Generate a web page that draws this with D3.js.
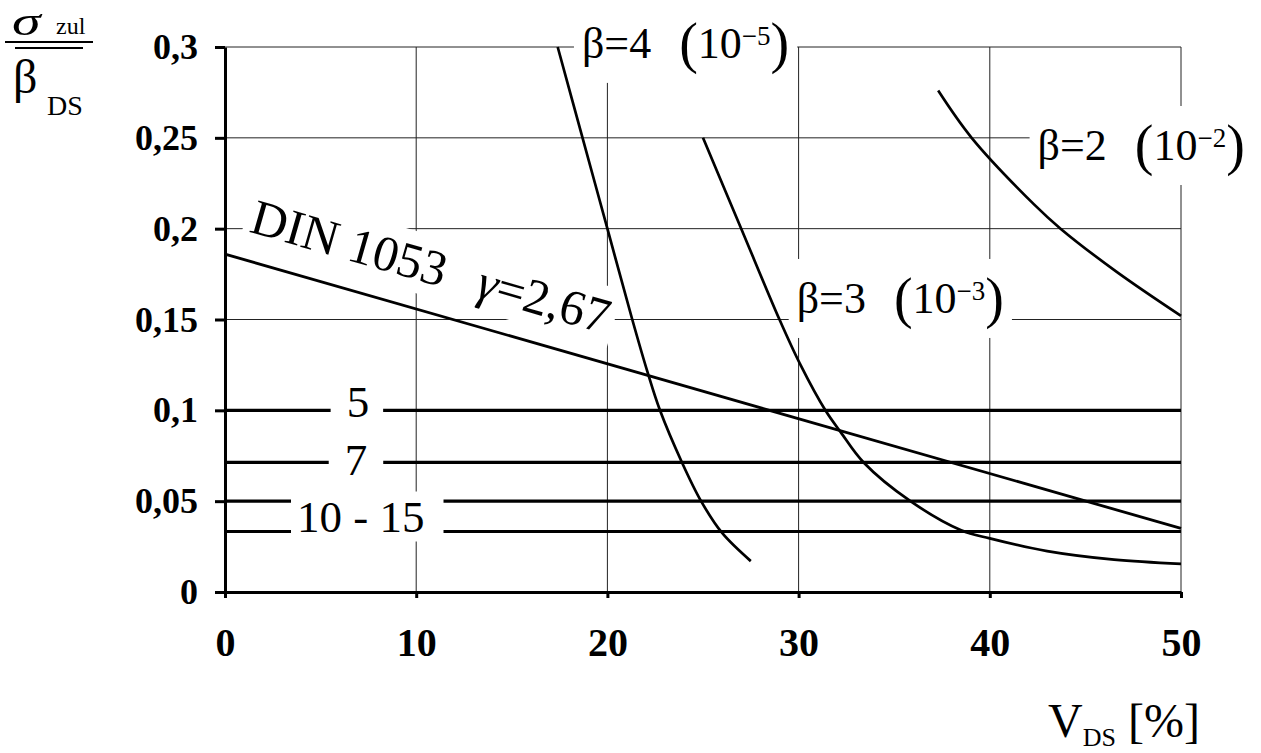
<!DOCTYPE html>
<html lang="de">
<head>
<meta charset="utf-8">
<title>Zulässige Spannung</title>
<script src="https://d3js.org/d3.v7.min.js"></script>
<style>
  body { margin: 0; background: #fff; }
  svg { display: block; font-family: "Liberation Serif", "Times New Roman", serif; }
</style>
</head>
<body>
<div id="chart"></div>
<script>
// Axis ticks
const xTicks = [0, 10, 20, 30, 40, 50];
const yTicks = [0, 0.05, 0.1, 0.15, 0.2, 0.25, 0.3];
const yTickLabels = ["0", "0,05", "0,1", "0,15", "0,2", "0,25", "0,3"];

// DIN 1053, gamma = 2,67 (straight line)
const dinX = [0, 50];
const dinY = [0.186, 0.035];

// beta curves
const beta4X = [17.4, 18.7, 20.0, 21.3, 22.1, 22.75, 23.9, 24.9, 26.0, 27.5];
const beta4Y = [0.3, 0.25, 0.2, 0.15, 0.121, 0.1, 0.0713, 0.05, 0.0325, 0.017];

const beta3X = [25.0, 27.0, 29.0, 30.1, 31.4, 32.2, 33.4, 35.85, 38.5, 40.0, 43.0, 46.5, 50.0];
const beta3Y = [0.25, 0.2, 0.15, 0.125, 0.1, 0.088, 0.0713, 0.05, 0.034, 0.0295, 0.0225, 0.0178, 0.0155];

const beta2X = [37.3, 39.05, 42.3, 43.7, 46.6, 50.0];
const beta2Y = [0.276, 0.25, 0.2135, 0.2, 0.1765, 0.152];

const betaValues = ["4", "3", "2"];
const betaExponents = ["\u22125", "\u22123", "\u22122"];

// global safety factors (horizontal levels)
const levelValues = [0.1, 0.0714, 0.05, 0.0333];
const levelLabels = ["5", "7", "10 - 15"];

// Chart dimensions
const W = 1261, H = 753;
const margin = { top: 47, right: 80, bottom: 161, left: 225 };
const width = W - margin.left - margin.right;
const height = H - margin.top - margin.bottom;

const svg = d3.select("#chart")
    .append("svg")
    .attr("width", W)
    .attr("height", H);

const g = svg.append("g")
    .attr("transform", `translate(${margin.left},${margin.top})`);

// Scales
const x = d3.scaleLinear().domain([0, 50]).range([0, width]);
const y = d3.scaleLinear().domain([0, 0.3]).range([height, 0]);

// Layers
const gridLayer = g.append("g");
const bgLayer = g.append("g");
const lineLayer = g.append("g");
const axisLayer = g.append("g");
const bgLayer2 = g.append("g");
const textLayer = g.append("g");

// Grid
gridLayer.selectAll("line.v")
    .data(xTicks.slice(1))
    .join("line")
    .attr("class", "v")
    .attr("x1", d => x(d)).attr("x2", d => x(d))
    .attr("y1", 0).attr("y2", height)
    .attr("stroke", "#222")
    .attr("stroke-width", 1);

gridLayer.selectAll("line.h")
    .data(yTicks.slice(1))
    .join("line")
    .attr("class", "h")
    .attr("x1", 0).attr("x2", width)
    .attr("y1", d => y(d)).attr("y2", d => y(d))
    .attr("stroke", "#222")
    .attr("stroke-width", 1);

// Curves
const curveLine = d3.line()
    .x(d => x(d[0]))
    .y(d => y(d[1]))
    .curve(d3.curveCatmullRom.alpha(0.5));

const curves = [d3.zip(beta4X, beta4Y), d3.zip(beta3X, beta3Y), d3.zip(beta2X, beta2Y)];

lineLayer.selectAll("path.curve")
    .data(curves)
    .join("path")
    .attr("class", "curve")
    .attr("d", curveLine)
    .attr("fill", "none")
    .attr("stroke", "#000")
    .attr("stroke-width", 2.7);

lineLayer.append("path")
    .attr("d", d3.line().x(d => x(d[0])).y(d => y(d[1]))(d3.zip(dinX, dinY)))
    .attr("fill", "none")
    .attr("stroke", "#000")
    .attr("stroke-width", 2.8);

// Levels
lineLayer.selectAll("line.level")
    .data(levelValues)
    .join("line")
    .attr("class", "level")
    .attr("x1", x(0)).attr("x2", x(50))
    .attr("y1", d => y(d)).attr("y2", d => y(d))
    .attr("stroke", "#000")
    .attr("stroke-width", 3.2);

// Axes
const yAxis = axisLayer.append("g")
    .call(d3.axisLeft(y)
        .tickValues(yTicks)
        .tickFormat(d => yTickLabels[yTicks.indexOf(d)])
        .tickSize(10)
        .tickSizeOuter(0)
        .tickPadding(17));

const xAxis = axisLayer.append("g")
    .attr("transform", `translate(0,${height})`)
    .call(d3.axisBottom(x)
        .tickValues(xTicks)
        .tickFormat(d => String(d))
        .tickSize(6)
        .tickSizeOuter(0)
        .tickPadding(30));

[yAxis, xAxis].forEach(a => {
    a.attr("font-family", null).attr("font-size", null);
    a.select(".domain").attr("stroke", "#000").attr("stroke-width", 3);
    a.selectAll(".tick line").attr("stroke", "#000").attr("stroke-width", 3);
    a.selectAll("text")
        .attr("fill", "#000")
        .style("font-family", "'Liberation Serif', 'Times New Roman', serif")
        .style("font-weight", "bold");
});
yAxis.selectAll("text").style("font-size", "36px");
xAxis.selectAll("text").style("font-size", "40px");

// Background helper
function addBg(layer, node, padX, padY, transform) {
    const b = node.getBBox();
    const r = layer.append("rect")
        .attr("x", b.x - padX[0])
        .attr("y", b.y - padY)
        .attr("width", b.width + padX[0] + padX[1])
        .attr("height", b.height + 2 * padY)
        .attr("fill", "#fff");
    if (transform) r.attr("transform", transform);
}

// Beta labels
const betaLabelPos = [
    { x: 18.67, y: 0.294 },
    { x: 29.9, y: 0.1536 },
    { x: 42.5, y: 0.2378 }
];

betaValues.forEach((b, i) => {
    const p = betaLabelPos[i];
    const t = textLayer.append("text")
        .attr("x", x(p.x))
        .attr("y", y(p.y))
        .attr("font-size", 44)
        .attr("fill", "#000");
    t.append("tspan").text(`\u03b2=${b}`);
    t.append("tspan").attr("dx", 28).attr("dy", 4).attr("font-size", 56).text("(");
    t.append("tspan").attr("dy", -4).attr("font-size", 44).text("10");
    t.append("tspan").attr("dy", -13).attr("font-size", 27).text(betaExponents[i]);
    t.append("tspan").attr("dy", 17).attr("font-size", 56).text(")");
    addBg(bgLayer, t.node(), [8, 8], 8);
});

// DIN label
const angle = Math.atan2(y(dinY[1]) - y(dinY[0]), x(dinX[1]) - x(dinX[0])) * 180 / Math.PI;
const dinAt = 0.8;
const dinValAt = dinY[0] + (dinY[1] - dinY[0]) * dinAt / (dinX[1] - dinX[0]);
const dinTransform = `translate(${x(dinAt)},${y(dinValAt)}) rotate(${angle})`;

const dinText = textLayer.append("g")
    .attr("transform", dinTransform)
    .append("text")
    .attr("x", 0)
    .attr("y", -28)
    .attr("font-size", 50)
    .attr("fill", "#000");
dinText.append("tspan").text("DIN 1053");
dinText.append("tspan").attr("dx", 34).style("font-style", "italic").text("\u03b3");
dinText.append("tspan").text("=2,67");
addBg(bgLayer, dinText.node(), [6, 6], 2, dinTransform);

// Level labels
const levelLabelPos = [
    { x: 6.95, y: y(levelValues[0]) + 7, pad: [16, 14] },
    { x: 6.85, y: y(levelValues[1]) + 13, pad: [16, 16] },
    { x: 7.1, y: y(levelValues[3]), pad: [6, 19] }
];

levelLabels.forEach((l, i) => {
    const p = levelLabelPos[i];
    const t = textLayer.append("text")
        .attr("x", x(p.x))
        .attr("y", p.y)
        .attr("text-anchor", "middle")
        .attr("font-size", 45)
        .attr("fill", "#000")
        .text(l);
    addBg(bgLayer2, t.node(), p.pad, 0);
});

// Axis titles
const xTitle = svg.append("text")
    .attr("x", 1048)
    .attr("y", 737)
    .attr("font-size", 48)
    .attr("fill", "#000");
xTitle.append("tspan").text("V");
xTitle.append("tspan").attr("dy", 9).attr("font-size", 26).text("DS");
xTitle.append("tspan").attr("dy", -9).attr("dx", 12).text("[%]");

const yTitle = svg.append("g");
yTitle.append("text")
    .attr("transform", "translate(12,35) scale(1.45,1)")
    .attr("font-size", 40)
    .style("font-style", "italic")
    .text("\u03c3");
yTitle.append("text")
    .attr("x", 56).attr("y", 34)
    .attr("font-size", 24)
    .text("zul");
yTitle.append("line")
    .attr("x1", 5).attr("x2", 93)
    .attr("y1", 42).attr("y2", 42)
    .attr("stroke", "#000").attr("stroke-width", 2);
yTitle.append("line")
    .attr("x1", 15).attr("x2", 83)
    .attr("y1", 48).attr("y2", 48)
    .attr("stroke", "#000").attr("stroke-width", 2);
yTitle.append("text")
    .attr("x", 13).attr("y", 93)
    .attr("font-size", 48)
    .text("\u03b2");
yTitle.append("text")
    .attr("x", 47).attr("y", 115)
    .attr("font-size", 28)
    .text("DS");
</script>
</body>
</html>
